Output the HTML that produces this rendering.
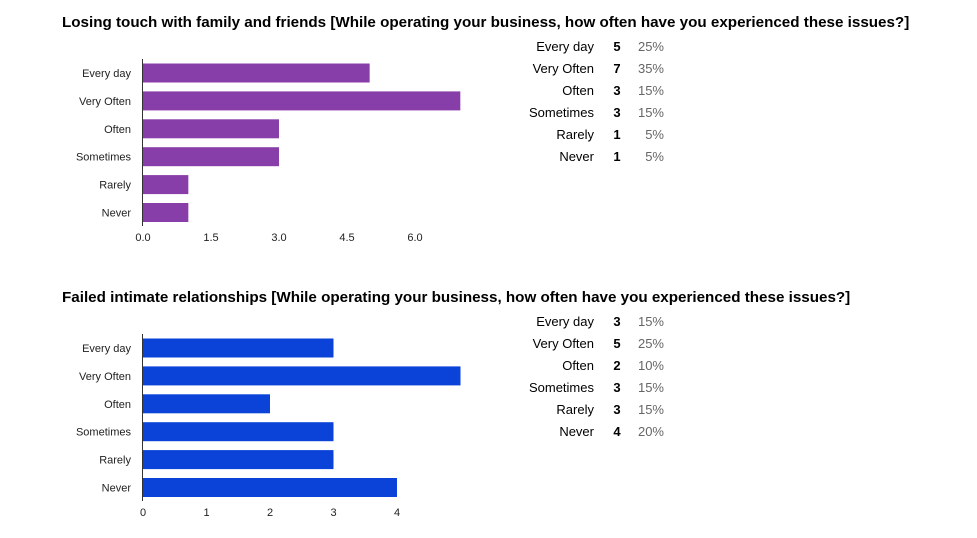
<!DOCTYPE html>
<html><head><meta charset="utf-8"><style>
body{margin:0;background:#fff;font-family:"Liberation Sans",Arial,sans-serif;}
svg text{font-family:"Liberation Sans",Arial,sans-serif;}
</style></head><body>
<svg id="s" width="977" height="533"></svg>
<script>
const categories=["Every day","Very Often","Often","Sometimes","Rarely","Never"];
const values1=[5,7,3,3,1,1];
const pct1=["25%","35%","15%","15%","5%","5%"];
const ticks1=["0.0","1.5","3.0","4.5","6.0"];
const tickVals1=[0,1.5,3,4.5,6];
const values2=[3,5,2,3,3,4];
const pct2=["15%","25%","10%","15%","15%","20%"];
const ticks2=["0","1","2","3","4"];
const tickVals2=[0,1,2,3,4];
const title1="Losing touch with family and friends [While operating your business, how often have you experienced these issues?]";
const title2="Failed intimate relationships [While operating your business, how often have you experienced these issues?]";
const NS="http://www.w3.org/2000/svg";
const svg=document.getElementById('s');
function el(tag,attrs,parent,text){const e=document.createElementNS(NS,tag);for(const k in attrs)e.setAttribute(k,attrs[k]);if(text!==undefined)e.textContent=text;(parent||svg).appendChild(e);return e;}
function chart(oy,title,vals,pct,ticks,tickVals,pxPerUnit,color,id){
  const g=el('g',{});
  
  
  const t=el('text',{x:62,y:oy+7,'font-size':15.2,'font-weight':'bold',fill:'#000'},g,title);
  
  
  const x0=143, firstC=oy+53;
  const xs=v=>x0+v*pxPerUnit;
  categories.forEach((c,i)=>{
    const cy=firstC+i*27.9;
    const b=el('rect',{x:x0,y:cy-9.5,width:xs(vals[i])-x0,height:19,fill:color},g);
    
    
    const l=el('text',{x:131,y:cy+4,'font-size':11,'text-anchor':'end',fill:'#222'},g,c);
    
    
    const ty=oy+31+i*22;
    const a=el('text',{x:594,y:ty,'font-size':13,'text-anchor':'end',fill:'#000'},g,c);
    
    
    const n=el('text',{x:617,y:ty,'font-size':13,'font-weight':'bold','text-anchor':'middle',fill:'#000'},g,String(vals[i]));
    
    
    const p=el('text',{x:664,y:ty,'font-size':13,'text-anchor':'end',fill:'#666'},g,pct[i]);
    
    
  });
  const ax=el('line',{x1:142.5,x2:142.5,y1:oy+39,y2:oy+206,stroke:'#333','stroke-width':1},g);
  
  
  ticks.forEach((tk,i)=>{
    const tt=el('text',{x:xs(tickVals[i]),y:oy+221,'font-size':11,'text-anchor':'middle',fill:'#222'},g,tk);
    
    
  });
}
chart(20,title1,values1,pct1,ticks1,tickVals1,45.33,'#883ea8','family');
chart(295,title2,values2,pct2,ticks2,tickVals2,63.5,'#0b42d8','relationships');
</script>
</body></html>
